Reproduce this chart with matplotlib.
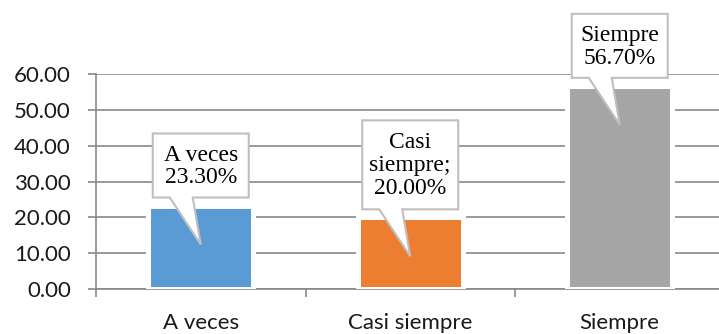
import matplotlib
matplotlib.use('Agg')
import matplotlib.pyplot as plt
from matplotlib.patches import Polygon
from matplotlib.transforms import ScaledTranslation

# data
categories = ['A veces', 'Casi siempre', 'Siempre']
values = [23.30, 20.00, 56.70]
callout_texts = ['A veces\n23.30%', 'Casi\nsiempre;\n20.00%', 'Siempre\n56.70%']
colors = ['#5B9BD5', '#ED7D31', '#A5A5A5']
yticks = [0, 10, 20, 30, 40, 50, 60]

grid_col = '#898989'

fig = plt.figure(figsize=(7.19, 3.34), dpi=100)
ax = fig.add_axes([96 / 719, 45 / 334, 628.5 / 719, 215 / 334])

x = list(range(len(categories)))
ax.bar(x, values, width=0.5, color=colors, edgecolor='white', linewidth=3.6, zorder=3)

ax.set_xlim(-0.5, 2.5)
ax.set_ylim(0, 60)
ax.set_yticks(yticks)
ax.set_yticklabels(['%.2f' % t for t in yticks])
ax.yaxis.grid(True, color=grid_col, linewidth=1.2, zorder=0)
ax.set_axisbelow(True)

ax.set_xticks(x)
ax.set_xticklabels(categories)
ax.set_xticks([-0.5, 0.5, 1.5, 2.5], minor=True)
ax.tick_params(axis='x', which='major', length=0, pad=17, labelsize=16, labelcolor='#1a1a1a')
ax.tick_params(axis='x', which='minor', length=6, width=1.2, color=grid_col)
ax.tick_params(axis='y', length=6, width=1.2, color=grid_col, pad=12, labelsize=16, labelcolor='#1a1a1a')
for lab in ax.get_xticklabels() + ax.get_yticklabels():
    lab.set_family('Lato')

for s in ['top', 'right']:
    ax.spines[s].set_visible(False)
for s in ['left', 'bottom']:
    ax.spines[s].set_color(grid_col)
    ax.spines[s].set_linewidth(1.2)

# wedge callouts, shape in pixels (dpi 100) relative to bar top
for i, (v, txt) in enumerate(zip(values, callout_texts)):
    nlines = txt.count('\n') + 1
    w = 96
    h = 64 if nlines == 2 else 89
    tip = -39
    d = tip + 47
    verts = [(-w / 2, d), (-31, d), (0, tip), (-8, d), (w / 2, d),
             (w / 2, d + h), (-w / 2, d + h)]
    verts = [(a / 100, b / 100) for a, b in verts]
    tr = fig.dpi_scale_trans + ScaledTranslation(i, v, ax.transData)
    poly = Polygon(verts, closed=True, facecolor='white', edgecolor='#BFBFBF',
                   linewidth=1.5, transform=tr, clip_on=False, zorder=5)
    ax.add_patch(poly)
    ax.text(0, (d + h / 2 - 1) / 100, txt, transform=tr, ha='center', va='center',
            family='Liberation Serif', fontsize=17, linespacing=1.12,
            color='black', zorder=6, clip_on=False)

fig.savefig('out.png', dpi=100)
